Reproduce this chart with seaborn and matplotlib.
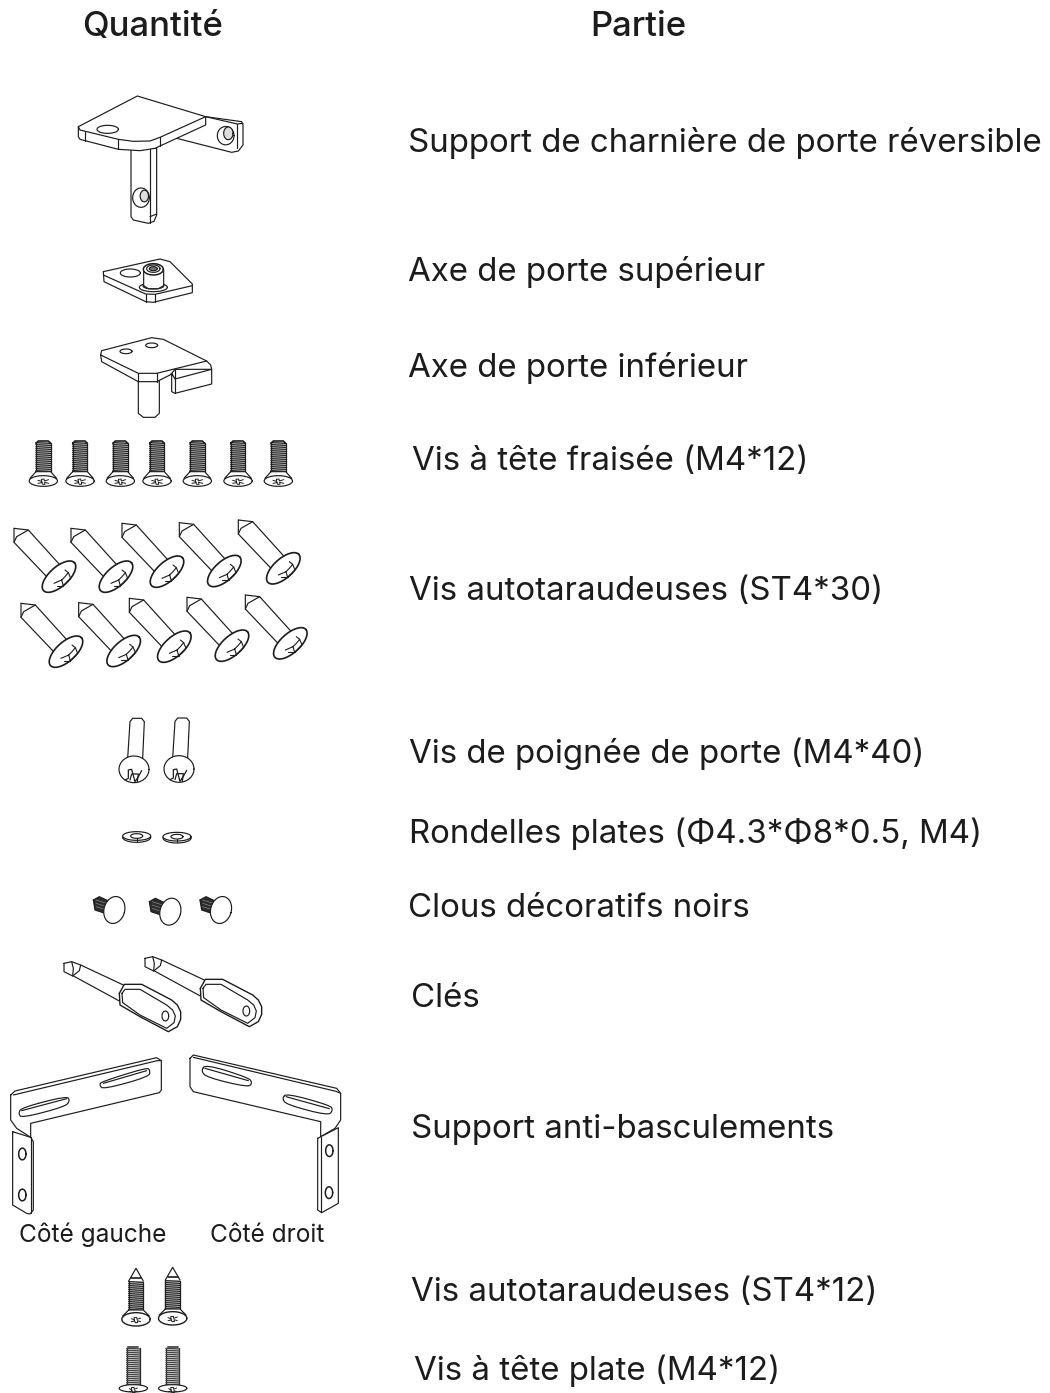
import numpy as np
import matplotlib
matplotlib.use("Agg")
import matplotlib.pyplot as plt
from matplotlib.patches import Polygon
import seaborn as sns

# Text and values
headers = ["Quantité", "Partie"]
part_labels = [
    "Support de charnière de porte réversible",
    "Axe de porte supérieur",
    "Axe de porte inférieur",
    "Vis à tête fraisée (M4*12)",
    "Vis autotaraudeuses (ST4*30)",
    "Vis de poignée de porte (M4*40)",
    "Rondelles plates (Φ4.3*Φ8*0.5, M4)",
    "Clous décoratifs noirs",
    "Clés",
    "Support anti-basculements",
    "Vis autotaraudeuses (ST4*12)",
    "Vis à tête plate (M4*12)",
]
side_labels = ["Côté gauche", "Côté droit"]
quantities = [1, 1, 1, 7, 10, 2, 2, 3, 2, 2, 2, 2]

label_x = [408, 408, 408, 412, 409, 409, 409, 408, 411, 411, 411, 414]
label_base = [152, 281, 377, 470, 600, 763, 843, 917, 1007, 1138, 1301, 1380]

INK = "#1c1c1c"
LW = 0.85
FONT = "Inter"

sns.set_theme(style="white")
plt.rcParams["font.family"] = [FONT, "DejaVu Sans"]

fig = plt.figure(figsize=(10.5, 13.93), dpi=100)
ax = fig.add_axes([0, 0, 1, 1])
z = [3]


def chaikin(pts, rounds=2):
    p = np.array(pts, dtype=float)
    for _ in range(rounds):
        nxt = np.roll(p, -1, axis=0)
        p = np.c_[0.75 * p + 0.25 * nxt, 0.25 * p + 0.75 * nxt].reshape(-1, 2)
    return p.tolist()


def line(pts, ox=0, oy=0, lw=LW, color=INK):
    # points are read in 3x zoomed pixels, so divide back down
    p = np.array(pts, dtype=float) / 3 + [ox, oy]
    z[0] += 1
    sns.lineplot(x=p[:, 0], y=p[:, 1], sort=False, estimator=None, ax=ax,
                 color=color, linewidth=lw, zorder=z[0])


def shape(pts, ox=0, oy=0, lw=LW, fc="white", smooth=False):
    if smooth:
        pts = chaikin(pts)
    p = np.array(pts, dtype=float) / 3 + [ox, oy]
    z[0] += 1
    ax.add_patch(Polygon(p, closed=True, fc=fc, ec="none", zorder=z[0]))
    line(list(pts) + [pts[0]], ox, oy, lw)


def oval(cx, cy, w, h, ox=0, oy=0, angle=0, lw=LW, fc="white"):
    t = np.linspace(0, 2 * np.pi, 50)[:-1]
    a = np.deg2rad(angle)
    x = w / 2 * np.cos(t)
    y = h / 2 * np.sin(t)
    pts = np.c_[cx + x * np.cos(a) - y * np.sin(a), cy + x * np.sin(a) + y * np.cos(a)]
    shape(pts.tolist(), ox, oy, lw, fc)


def hinge_bracket():
    ox, oy = 0, 80
    # stem
    shape([(393, 205), (393, 410), (400, 420), (445, 430), (462, 424), (470, 405), (470, 205)], ox, oy)
    line([(450, 205), (450, 428)], ox, oy)
    line([(450, 410), (470, 402)], ox, oy)
    oval(423, 353, 50, 58, ox, oy)
    oval(433, 348, 25, 35, ox, oy, fc="#dddddd")
    # right tab
    shape([(530, 175), (617, 110), (725, 125), (729, 135), (729, 195), (715, 213), (695, 217)], ox, oy)
    line([(617, 110), (712, 132), (729, 130)], ox, oy)
    line([(712, 132), (712, 205)], ox, oy)
    oval(677, 167, 50, 55, ox, oy)
    oval(685, 160, 28, 38, ox, oy, fc="#dddddd")
    # plate
    shape([(235, 140), (412, 48), (617, 110), (617, 135), (480, 198), (465, 205), (420, 212),
           (355, 208), (240, 178), (235, 170)], ox, oy)
    line([(235, 140), (240, 150), (355, 178), (400, 184), (450, 183), (480, 172), (617, 110)], ox, oy)
    line([(255, 155), (255, 182)], ox, oy)
    line([(355, 178), (355, 208)], ox, oy)
    line([(480, 172), (480, 198)], ox, oy)
    oval(323, 148, 64, 24, ox, oy)


def upper_pin():
    ox, oy = 0, 80
    shape([(310, 575), (480, 537), (510, 545), (577, 612), (577, 638), (460, 667), (437, 665),
           (312, 605)], ox, oy)
    line([(310, 585), (437, 642), (465, 643), (577, 617)], ox, oy)
    line([(437, 642), (437, 665)], ox, oy)
    line([(465, 643), (465, 667)], ox, oy)
    oval(391, 579, 60, 24, ox, oy)
    oval(460, 622, 84, 26, ox, oy)
    oval(460, 618, 62, 18, ox, oy)
    shape([(431, 570), (431, 617), (445, 626), (475, 626), (491, 617), (491, 570)], ox, oy)
    oval(460, 568, 60, 34, ox, oy, lw=1.1)
    oval(460, 566, 40, 22, ox, oy)
    oval(460, 566, 24, 12, ox, oy, fc="#777777")


def lower_pin():
    ox, oy = 0, 80
    shape([(415, 900), (415, 1000), (430, 1012), (465, 1012), (478, 1000), (478, 900)], ox, oy)
    shape([(515, 880), (515, 935), (525, 940), (635, 912), (635, 868), (525, 897)], ox, oy)
    shape([(302, 825), (305, 812), (455, 773), (490, 778), (620, 843), (632, 855), (635, 868),
           (525, 868), (515, 880), (510, 885), (470, 905), (415, 905), (305, 845)], ox, oy)
    line([(302, 825), (415, 880), (470, 880), (620, 843)], ox, oy)
    line([(415, 880), (415, 905)], ox, oy)
    line([(470, 880), (470, 905)], ox, oy)
    line([(525, 868), (525, 940)], ox, oy)
    oval(378, 814, 36, 14, ox, oy)
    oval(455, 796, 36, 14, ox, oy)


def threads(cx, top, bottom, half, ox, oy, step=6, lw=1.0, color="#222222"):
    line([(cx - half, top), (cx - half, bottom)], ox, oy, lw=0.9)
    line([(cx + half, top), (cx + half, bottom)], ox, oy, lw=0.9)
    for y in np.arange(top, bottom, step):
        line([(cx - half, y), (cx + half, y + 2)], ox, oy, lw=lw, color=color)


def cross(cx, cy, s, ox, oy):
    line([(cx - s, cy + 5), (cx - 4, cy + 3), (cx - 6, cy - 7), (cx + 2, cy - 8), (cx + 3, cy - 2),
          (cx + s, cy - 6)], ox, oy, lw=0.7)
    line([(cx - s, cy - 4), (cx - 6, cy - 1), (cx - 2, cy + 8), (cx + 5, cy + 8), (cx + 4, cy + 2),
          (cx + s, cy + 5)], ox, oy, lw=0.7)


def flat_screw(cx, ox=0, oy=420):
    threads(cx, 68, 155, 22, ox, oy)
    line([(cx - 22, 70), (cx - 15, 63), (cx + 15, 63), (cx + 22, 70)], ox, oy, lw=1.2)
    shape([(cx - 22, 155), (cx - 40, 175), (cx + 40, 175), (cx + 22, 155)], ox, oy)
    oval(cx, 183, 85, 32, ox, oy)
    cross(cx, 185, 16, ox, oy)


def angled_screw(tx, ty):
    ox, oy = (tx - 42) / 3, 420 + (ty - 325) / 3
    line([(42, 325), (85, 330), (180, 435)], ox, oy)
    line([(42, 325), (42, 367), (140, 470)], ox, oy)
    line([(42, 367), (50, 350), (85, 330)], ox, oy)
    oval(177, 470, 125, 58, ox, oy, angle=-42, lw=1.2)
    line([(162, 490), (185, 480), (190, 497), (212, 475), (205, 458), (195, 470), (185, 480)], ox, oy, lw=0.8)
    line([(170, 497), (190, 497)], ox, oy, lw=0.8)
    line([(205, 458), (195, 450)], ox, oy, lw=0.8)


def handle_screw(dx, dy=0):
    ox, oy = 60 + dx / 3, 700 + dy / 3
    line([(203, 175), (210, 65), (218, 55), (245, 55), (253, 65), (248, 175)], ox, oy)
    oval(222, 208, 90, 80, ox, oy)
    line([(195, 240), (205, 235), (205, 210), (215, 208), (225, 245), (235, 230), (245, 212)], ox, oy, lw=0.9)
    line([(210, 240), (215, 222), (235, 222), (232, 245)], ox, oy, lw=0.9)


def washer(cx, cy):
    ox, oy = 60, 700
    oval(cx, cy + 4, 84, 30, ox, oy)
    oval(cx, cy, 84, 26, ox, oy)
    oval(cx, cy, 36, 14, ox, oy)
    line([(cx, cy + 7), (cx, cy + 17)], ox, oy, lw=0.7)


def stud(dx, dy=0):
    ox, oy = 60 + dx / 3, 700 + dy / 3
    shape([(100, 600), (118, 590), (150, 605), (135, 640), (105, 630)], ox, oy, fc="#2c2c2c")
    for y in (600, 610, 620):
        line([(108, y), (140, y + 10)], ox, oy, lw=0.5, color="#888888")
    oval(163, 630, 62, 82, ox, oy, angle=15)


def key(dx, dy):
    ox, oy = 60 + dx / 3, 700 + dy / 3
    line([(35, 825), (178, 903)], ox, oy)
    line([(62, 795), (190, 855)], ox, oy)
    shape([(12, 790), (35, 785), (62, 795), (58, 812), (38, 828), (12, 815)], ox, oy)
    line([(35, 785), (40, 805), (38, 828)], ox, oy)
    shape([(178, 880), (193, 853), (245, 853), (335, 900), (352, 915), (362, 935), (362, 958),
           (352, 980), (325, 995), (240, 950), (180, 915)], ox, oy, lw=1.0)
    shape([(186, 880), (195, 868), (240, 868), (320, 915), (338, 930), (346, 948), (342, 968),
           (320, 985), (240, 945), (188, 908)], ox, oy)
    oval(316, 948, 20, 30, ox, oy)


def left_bracket():
    ox, oy = 0, 1030
    shape([(32, 195), (45, 183), (470, 83), (484, 92), (484, 180), (478, 188), (92, 280), (92, 322),
           (50, 295), (32, 270)], ox, oy)
    line([(40, 195), (472, 92), (484, 92)], ox, oy)
    shape([(305, 155), (440, 113), (450, 120), (448, 140), (310, 178), (298, 165)], ox, oy, smooth=True)
    line([(310, 160), (440, 122)], ox, oy)
    shape([(65, 233), (200, 198), (210, 212), (195, 230), (65, 264), (55, 250)], ox, oy, smooth=True)
    line([(65, 242), (200, 206)], ox, oy)
    shape([(38, 305), (92, 322), (100, 335), (100, 540), (90, 552), (80, 550), (38, 525)], ox, oy)
    line([(92, 322), (92, 550)], ox, oy)
    oval(67, 372, 22, 35, ox, oy, lw=1.1)
    oval(67, 495, 22, 35, ox, oy, lw=1.1)


def right_bracket():
    ox, oy = 0, 1030
    shape([(570, 85), (580, 75), (1010, 175), (1022, 190), (1022, 270), (1005, 295), (962, 320),
           (962, 275), (580, 185), (570, 170)], ox, oy)
    line([(580, 82), (1008, 184), (1022, 190)], ox, oy)
    shape([(603, 122), (618, 103), (745, 143), (757, 158), (745, 172), (620, 142)], ox, oy, smooth=True)
    line([(615, 115), (745, 152)], ox, oy)
    shape([(846, 205), (860, 190), (990, 226), (999, 240), (985, 257), (860, 224)], ox, oy, smooth=True)
    line([(858, 200), (988, 236)], ox, oy)
    shape([(953, 325), (1015, 293), (1015, 520), (965, 548), (953, 540)], ox, oy)
    line([(962, 320), (962, 545)], ox, oy)
    oval(988, 362, 22, 35, ox, oy, lw=1.1)
    oval(987, 488, 22, 35, ox, oy, lw=1.1)


def tap_screw(cx, tip):
    ox, oy = 0, 1030
    threads(cx, tip + 40, tip + 125, 22, ox, oy)
    line([(cx - 22, tip + 38), (cx, tip), (cx + 22, tip + 38)], ox, oy)
    line([(cx - 15, tip + 30), (cx + 15, tip + 30)], ox, oy, lw=1.2)
    shape([(cx - 22, tip + 125), (cx - 40, tip + 143), (cx + 40, tip + 143), (cx + 22, tip + 125)], ox, oy)
    oval(cx, tip + 153, 85, 40, ox, oy, lw=1.0)
    cross(cx, tip + 155, 14, ox, oy)


def pan_screw(cx):
    ox, oy = 0, 1030
    threads(cx, 955, 1065, 20, ox, oy, color="#444444")
    line([(cx - 15, 950), (cx + 15, 950)], ox, oy, lw=1.4, color="#555555")
    oval(cx, 1075, 85, 22, ox, oy)
    cross(cx, 1080, 12, ox, oy)


hinge_bracket()
upper_pin()
lower_pin()

for cx in [130, 240, 361, 471, 592, 714, 835][:quantities[3]]:
    flat_screw(cx)

tips = [(42, 325), (213, 325), (366, 310), (538, 308), (715, 300),
        (63, 550), (236, 548), (388, 535), (561, 532), (736, 525)]
for tx, ty in tips[:quantities[4]]:
    angled_screw(tx, ty)

handle_screw(0)
handle_screw(135, -1)
washer(230, 408)
washer(351, 410)
stud(0)
stud(168, 5)
stud(320, 0)
key(0, 0)
key(243, -15)
left_bracket()
right_bracket()
tap_screw(408, 715)
tap_screw(518, 712)
pan_screw(400)
pan_screw(518)

for name, cx in zip(headers, [153, 638]):
    ax.text(cx, 36, name, ha="center", va="baseline", fontsize=25, color=INK, fontweight="medium", zorder=900)

for label, x, y in zip(part_labels, label_x, label_base):
    ax.text(x, y, label, ha="left", va="baseline", fontsize=23.8, color=INK, zorder=900)

for label, x in zip(side_labels, [19, 210]):
    ax.text(x, 1242, label, ha="left", va="baseline", fontsize=17.6, color=INK, zorder=900)

ax.set_xlim(0, 1050)
ax.set_ylim(1393, 0)
ax.set_xlabel("")
ax.set_ylabel("")
ax.axis("off")
sns.despine(ax=ax, left=True, bottom=True)
fig.savefig("out.png", dpi=100, facecolor="white")
